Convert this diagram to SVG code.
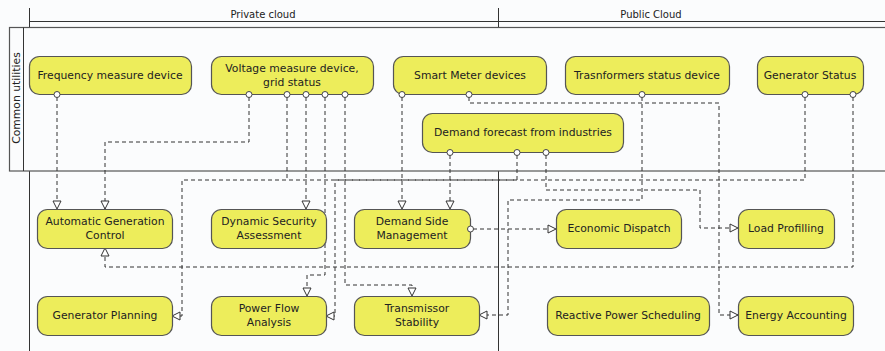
<svg xmlns="http://www.w3.org/2000/svg" width="885" height="351" viewBox="0 0 885 351">
<defs>
<style>
.bg{fill:#fbfcfd}
.lane{fill:none;stroke:#333;stroke-width:1}
.band{fill:#fbfcfd;stroke:#555;stroke-width:1.2}
.node rect{fill:#eded5b;stroke:#555;stroke-width:1.2}
.node text,.lbl{font-family:"DejaVu Sans",sans-serif;font-size:10.8px;fill:#222;text-anchor:middle}
.hdr{font-family:"DejaVu Sans",sans-serif;font-size:10px;fill:#222;text-anchor:middle}
.port{fill:#fff;stroke:#444;stroke-width:1}
#connectors path{fill:none;stroke:#333;stroke-width:1;stroke-dasharray:4 3;stroke-linejoin:round}
.arr{marker-end:url(#tri)}
</style>
<marker id="tri" markerUnits="userSpaceOnUse" markerWidth="10" markerHeight="10" refX="8" refY="4" orient="auto" viewBox="-1 -1 10 10">
<path d="M0,0 L8,4 L0,8 Z" fill="#fff" stroke="#333" stroke-width="1" stroke-dasharray="none"/>
</marker>
</defs>
<rect class="bg" x="0" y="0" width="885" height="351"/>

<g id="lanes">
<line class="lane" x1="29.5" y1="8" x2="29.5" y2="351"/>
<line class="lane" x1="498.5" y1="8" x2="498.5" y2="351"/>
<line class="lane" x1="29.5" y1="21.5" x2="885" y2="21.5"/>
<text class="hdr" x="263" y="18">Private cloud</text>
<text class="hdr" x="651" y="18">Public Cloud</text>
<rect class="band" x="9.5" y="27.5" width="880" height="143.5"/>
<line class="lane" x1="23.5" y1="27.5" x2="23.5" y2="171"/>
<text class="lbl" transform="translate(20,98) rotate(-90)">Common utilities</text>
</g>

<g id="connectors">
<path class="arr" d="M57,97 V209"/>
<path class="arr" d="M249,97 V142 H105 V209"/>
<path class="arr" d="M287,97 V180 H182 V316 H172"/>
<path class="arr" d="M306,97 V209"/>
<path class="arr" d="M325,97 V275 H307 V296"/>
<path class="arr" d="M345,97 V285 H412 V296"/>
<path class="arr" d="M402,97 V209"/>
<path class="arr" d="M469,97 V103 H719 V315 H738"/>
<path class="arr" d="M642,97 V200 H508 V315 H479"/>
<path d="M805,97 V180 H287"/>
<path class="arr" d="M853,97 V267 H105 V248"/>
<path class="arr" d="M450,155 V209"/>
<path class="arr" d="M517,155 V180 H335 V316 H326"/>
<path class="arr" d="M546,155 V190 H700 V228 H738"/>
<path class="arr" d="M473,229 H556"/>
</g>

<g id="n-freq" class="node"><rect x="29.5" y="56.5" width="162" height="38" rx="10"/><text x="110" y="79">Frequency measure device</text></g>
<g id="n-volt" class="node"><rect x="211.5" y="56.5" width="162" height="38" rx="10"/><text x="292" y="72">Voltage measure device,</text><text x="292" y="86">grid status</text></g>
<g id="n-smart" class="node"><rect x="393.5" y="56.5" width="153" height="38" rx="10"/><text x="470" y="79">Smart Meter devices</text></g>
<g id="n-trans" class="node"><rect x="565.5" y="56.5" width="164" height="38" rx="10"/><text x="647" y="79">Trasnformers status device</text></g>
<g id="n-genstat" class="node"><rect x="757.5" y="56.5" width="106" height="38" rx="10"/><text x="810" y="79">Generator Status</text></g>
<g id="n-demand" class="node"><rect x="422.5" y="113.5" width="201" height="39" rx="10"/><text x="523" y="136">Demand forecast from industries</text></g>

<g id="n-agc" class="node"><rect x="37.5" y="209.5" width="135" height="39" rx="10"/><text x="105" y="225">Automatic Generation</text><text x="105" y="239">Control</text></g>
<g id="n-dsa" class="node"><rect x="211.5" y="209.5" width="115" height="39" rx="10"/><text x="269" y="225">Dynamic Security</text><text x="269" y="239">Assessment</text></g>
<g id="n-dsm" class="node"><rect x="354.5" y="209.5" width="116" height="39" rx="10"/><text x="412" y="225">Demand Side</text><text x="412" y="239">Management</text></g>
<g id="n-ed" class="node"><rect x="556.5" y="209.5" width="125" height="39" rx="10"/><text x="619" y="232">Economic Dispatch</text></g>
<g id="n-lp" class="node"><rect x="738.5" y="209.5" width="96" height="39" rx="10"/><text x="786" y="232">Load Profilling</text></g>
<g id="n-gp" class="node"><rect x="37.5" y="296.5" width="135" height="39" rx="10"/><text x="105" y="319">Generator Planning</text></g>
<g id="n-pfa" class="node"><rect x="211.5" y="296.5" width="115" height="39" rx="10"/><text x="269" y="312">Power Flow</text><text x="269" y="326">Analysis</text></g>
<g id="n-ts" class="node"><rect x="354.5" y="296.5" width="125" height="39" rx="10"/><text x="417" y="312">Transmissor</text><text x="417" y="326">Stability</text></g>
<g id="n-rps" class="node"><rect x="547.5" y="296.5" width="162" height="39" rx="10"/><text x="628" y="319">Reactive Power Scheduling</text></g>
<g id="n-ea" class="node"><rect x="738.5" y="296.5" width="115" height="39" rx="10"/><text x="796" y="319">Energy Accounting</text></g>

<g id="ports">
<circle class="port" cx="57" cy="94.5" r="3"/>
<circle class="port" cx="249" cy="94.5" r="3"/>
<circle class="port" cx="287" cy="94.5" r="3"/>
<circle class="port" cx="306" cy="94.5" r="3"/>
<circle class="port" cx="325" cy="94.5" r="3"/>
<circle class="port" cx="345" cy="94.5" r="3"/>
<circle class="port" cx="402" cy="94.5" r="3"/>
<circle class="port" cx="469" cy="94.5" r="3"/>
<circle class="port" cx="642" cy="94.5" r="3"/>
<circle class="port" cx="805" cy="94.5" r="3"/>
<circle class="port" cx="853" cy="94.5" r="3"/>
<circle class="port" cx="450" cy="152.5" r="3"/>
<circle class="port" cx="517" cy="152.5" r="3"/>
<circle class="port" cx="546" cy="152.5" r="3"/>
<circle class="port" cx="470.5" cy="229" r="3"/>
</g>
</svg>
